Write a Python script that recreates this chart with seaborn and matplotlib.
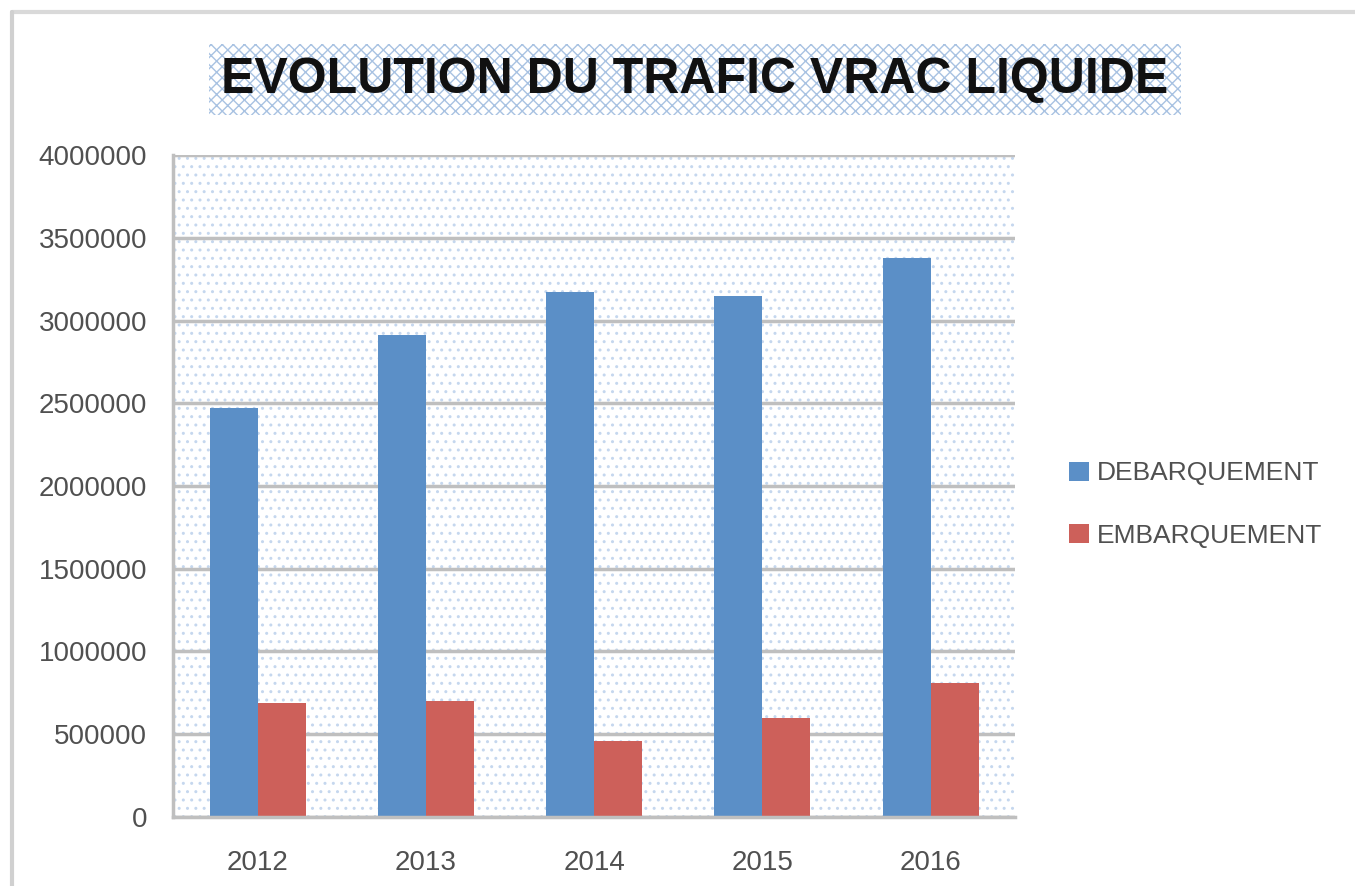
import pandas as pd
import matplotlib
matplotlib.use("Agg")
import matplotlib.pyplot as plt
from matplotlib.lines import Line2D
import seaborn as sns

# --- Données ---
annees = ["2012", "2013", "2014", "2015", "2016"]
debarquement = [2470000, 2910000, 3170000, 3150000, 3380000]
embarquement = [690000, 700000, 460000, 600000, 810000]
series = ["DEBARQUEMENT", "EMBARQUEMENT"]
y_ticks = [0, 500000, 1000000, 1500000, 2000000, 2500000, 3000000, 3500000, 4000000]

df = pd.DataFrame({
    "annee": annees * 2,
    "valeur": debarquement + embarquement,
    "type": [series[0]] * len(annees) + [series[1]] * len(annees),
})

sns.set_style("white")
plt.rcParams["font.family"] = ["Liberation Sans", "DejaVu Sans"]

fig = plt.figure(figsize=(13.55, 8.86), dpi=100)
# cadre gris en haut et à gauche
fig.add_artist(Line2D([12 / 1355, 1], [1 - 12 / 886] * 2, color="#d9d9d9", lw=3))
fig.add_artist(Line2D([12 / 1355] * 2, [0, 1 - 12 / 886], color="#d0d0d0", lw=3))

ax = fig.add_axes([0.128, 0.078, 0.621, 0.747])

# fond pointillé
ax.patch.set_facecolor("white")
ax.patch.set_hatch("..")
ax.patch.set_edgecolor("#c5d7ee")
ax.patch.set_linewidth(0)

sns.barplot(data=df, x="annee", y="valeur", hue="type", ax=ax,
            palette=["#5b8fc7", "#cd605a"], width=0.57, saturation=1,
            edgecolor="none")

ax.set_ylim(0, 4000000)
ax.set_yticks(y_ticks)
ax.set_yticklabels([str(v) for v in y_ticks])
ax.yaxis.grid(True, color="#bfbfbf", linewidth=2.5)
ax.set_axisbelow(True)
ax.set_xlabel("")
ax.set_ylabel("")

for s in ["top", "right"]:
    ax.spines[s].set_visible(False)
ax.spines["left"].set_color("#bfbfbf")
ax.spines["left"].set_linewidth(2.5)
ax.spines["bottom"].set_color("#bfbfbf")
ax.spines["bottom"].set_linewidth(2.5)

ax.tick_params(axis="y", length=10, width=2, color="#bfbfbf", labelsize=20,
               labelcolor="#505050", pad=9)
ax.tick_params(axis="x", length=0, labelsize=20, labelcolor="#505050", pad=24)
# petites graduations entre les catégories
ax.set_xticks([i + 0.5 for i in range(-1, len(annees))], minor=True)
ax.tick_params(axis="x", which="minor", length=8, width=2, color="#bfbfbf")
ax.set_xlim(-0.5, len(annees) - 0.5)

leg = ax.legend(loc="center left", bbox_to_anchor=(1.036, 0.472), frameon=False,
                fontsize=19, handlelength=0.75, handleheight=0.75,
                labelspacing=1.45, handletextpad=0.3)
for t in leg.get_texts():
    t.set_color("#505050")

fig.text(0.513, 0.91, "EVOLUTION DU TRAFIC VRAC LIQUIDE",
         ha="center", va="center", fontsize=36, fontweight="bold",
         family=["Liberation Sans Narrow", "Liberation Sans"], color="#111111",
         bbox=dict(boxstyle="square,pad=0.25", facecolor="white",
                   edgecolor="#a8c2e2", hatch="xxx", linewidth=0))

fig.savefig("out.png", dpi=100)
